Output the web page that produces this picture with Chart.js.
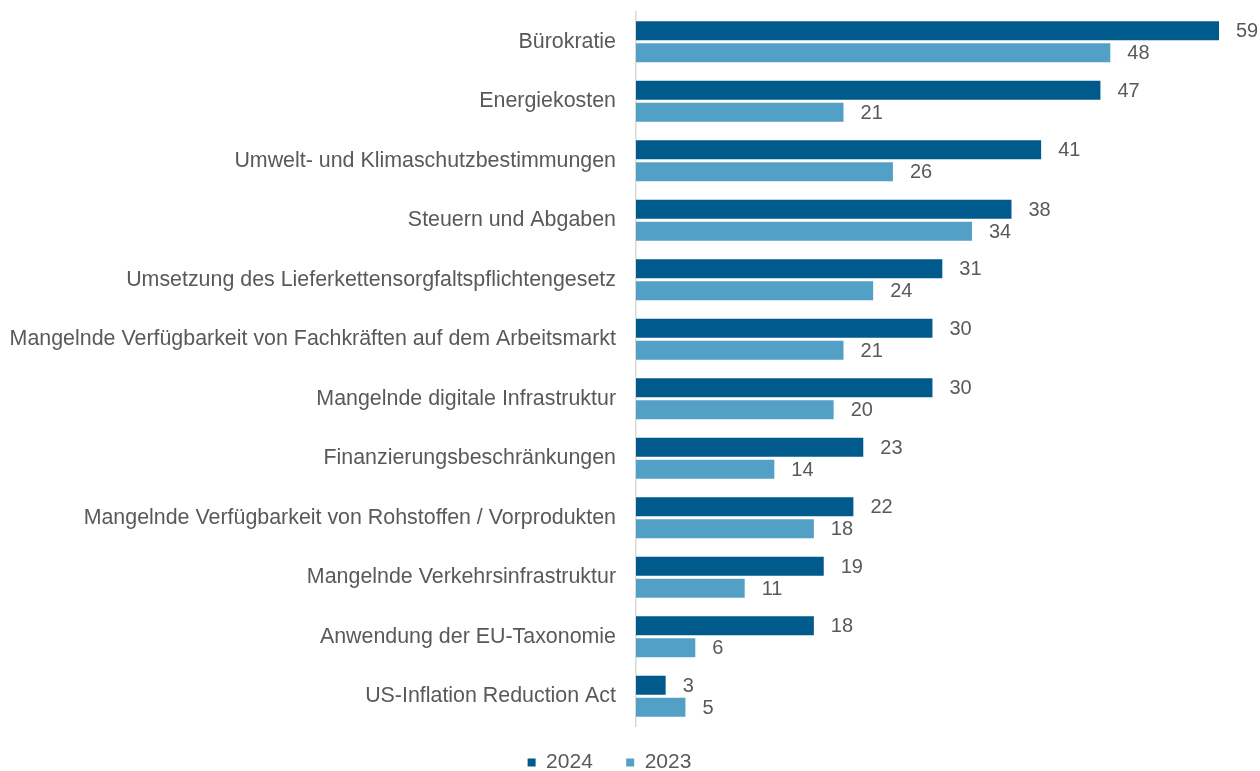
<!DOCTYPE html>
<html>
<head>
<meta charset="utf-8">
<script src="https://cdn.jsdelivr.net/npm/chart.js@4"></script>
<style>
	html, body { margin: 0; padding: 0; background: #fff; }
	#wrap { width: 1260px; height: 771px; }
</style>
</head>
<body>
<div id="wrap"><canvas id="myChart"></canvas></div>
<script>
const categories = [
	"Bürokratie",
	"Energiekosten",
	"Umwelt- und Klimaschutzbestimmungen",
	"Steuern und Abgaben",
	"Umsetzung des Lieferkettensorgfaltspflichtengesetz",
	"Mangelnde Verfügbarkeit von Fachkräften auf dem Arbeitsmarkt",
	"Mangelnde digitale Infrastruktur",
	"Finanzierungsbeschränkungen",
	"Mangelnde Verfügbarkeit von Rohstoffen / Vorprodukten",
	"Mangelnde Verkehrsinfrastruktur",
	"Anwendung der EU-Taxonomie",
	"US-Inflation Reduction Act"
];
const values2024 = [59, 47, 41, 38, 31, 30, 30, 23, 22, 19, 18, 3];
const values2023 = [48, 21, 26, 34, 24, 21, 20, 14, 18, 11, 6, 5];
const seriesNames = ["2024", "2023"];

const grey = "#595959";
const font = "'Liberation Sans', Arial, sans-serif";

// Werte rechts neben die Balken schreiben
const valueLabels = {
	id: "valueLabels",
	afterDatasetsDraw(chart) {
		const ctx = chart.ctx;
		ctx.save();
		ctx.font = "20px " + font;
		ctx.fillStyle = grey;
		ctx.textAlign = "left";
		ctx.textBaseline = "middle";
		chart.data.datasets.forEach(function(ds, i) {
			chart.getDatasetMeta(i).data.forEach(function(bar, j) {
				ctx.fillText(ds.data[j], bar.x + 17, bar.y + 1);
			});
		});
		ctx.restore();
	}
};

const ctx = document.getElementById("myChart").getContext("2d");
const myChart = new Chart(ctx, {
	type: "bar",
	data: {
		labels: categories,
		datasets: [
			{ label: seriesNames[0], data: values2024, backgroundColor: "#005a8c" },
			{ label: seriesNames[1], data: values2023, backgroundColor: "#53a0c6" }
		]
	},
	options: {
		indexAxis: "y",
		responsive: true,
		maintainAspectRatio: false,
		animation: false,
		categoryPercentage: 0.74,
		barPercentage: 0.864,
		layout: { padding: { top: 12, right: 41, bottom: -12, left: 0 } },
		scales: {
			x: {
				min: 0,
				max: 59,
				ticks: { display: false },
				grid: { display: false, drawTicks: false },
				border: { display: false },
				afterFit: function(s) { s.height = 16; }
			},
			y: {
				grid: { display: false, drawTicks: false },
				border: { display: true, color: "#d9d9d9", width: 1.5 },
				ticks: {
					color: grey,
					padding: 20,
					font: { size: 21.4, family: font }
				},
				afterFit: function(s) {
					s.width = 636;
					s.paddingTop = 0;
					s.paddingBottom = 0;
				}
			}
		},
		plugins: {
			tooltip: { enabled: false },
			legend: {
				position: "bottom",
				labels: {
					boxWidth: 8,
					boxHeight: 8,
					padding: 10,
					color: grey,
					font: { size: 21, family: font },
					generateLabels: function(chart) {
						const items = Chart.defaults.plugins.legend.labels.generateLabels(chart);
						items[0].text = items[0].text + "    ";
						return items;
					}
				}
			}
		}
	},
	plugins: [valueLabels]
});
</script>
</body>
</html>
